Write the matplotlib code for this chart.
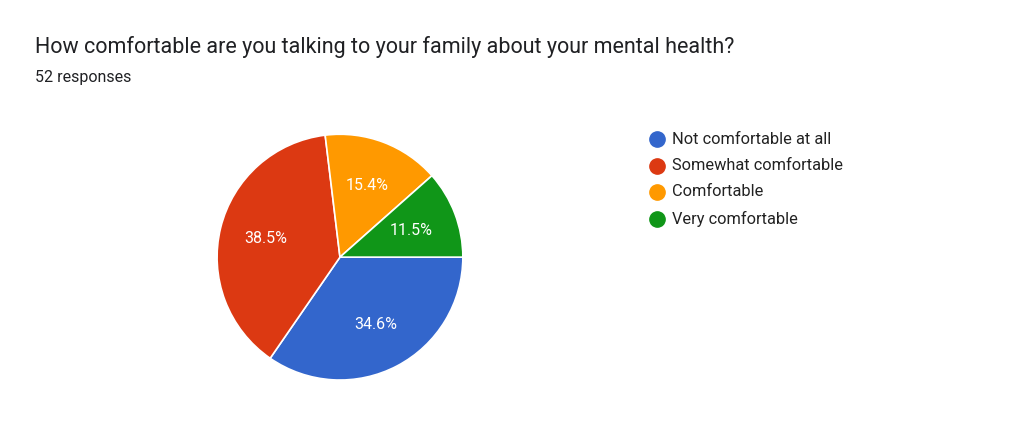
import matplotlib.pyplot as plt
from matplotlib.lines import Line2D

labels = ['Not comfortable at all', 'Somewhat comfortable', 'Comfortable', 'Very comfortable']
counts = [18, 20, 8, 6]
colors = ['#3366cc', '#dc3912', '#ff9900', '#109618']

plt.rcParams['font.family'] = ['Roboto', 'DejaVu Sans']

fig = plt.figure(figsize=(10.24, 4.3), dpi=100)
ax = fig.add_axes([0.212, 0.116, 0.24, 0.572])
wedges, texts, autotexts = ax.pie(counts, colors=colors, startangle=0, counterclock=False,
                                  autopct='%1.1f%%', pctdistance=0.62,
                                  wedgeprops={'edgecolor': 'white', 'linewidth': 1.2},
                                  textprops={'color': 'white', 'fontsize': 11.5})
ax.set_xlim(-1, 1)
ax.set_ylim(-1, 1)
ax.set_aspect('equal')

fig.text(0.034, 0.89, 'How comfortable are you talking to your family about your mental health?',
         fontsize=15.5, color='#202124', va='center')
fig.text(0.034, 0.82, '52 responses', fontsize=11.5, color='#202124', va='center')

ys = [139, 166, 192, 219]
for lab, col, y in zip(labels, colors, ys):
    yf = 1 - y / 430
    fig.add_artist(Line2D([0.642], [yf], marker='o', markersize=11, color=col,
                          transform=fig.transFigure))
    fig.text(0.656, yf, lab, fontsize=11.8, color='#222222', va='center')

fig.savefig('out.png', dpi=100, facecolor='white')
